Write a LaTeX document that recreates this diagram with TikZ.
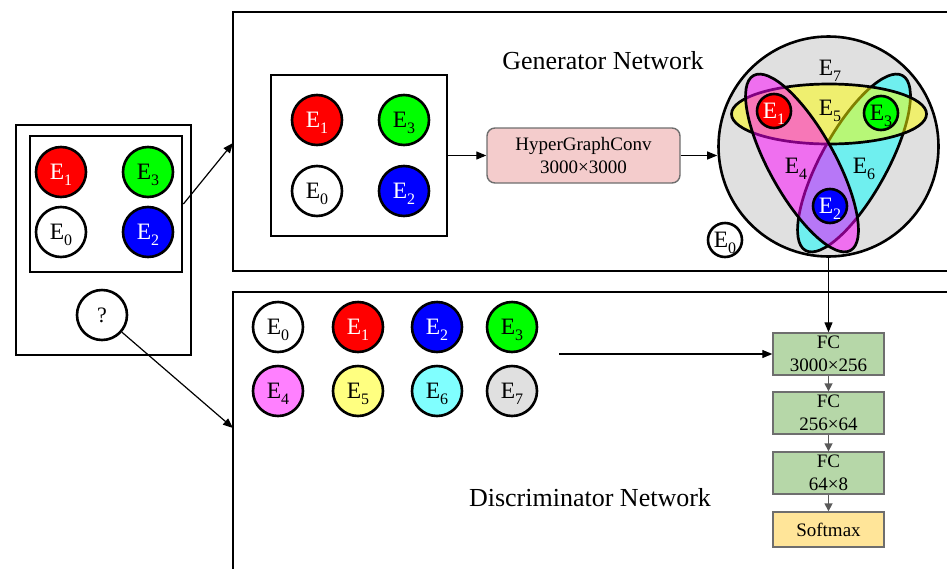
\documentclass[tikz,border=0pt]{standalone}
\usepackage{fontspec}
\setmainfont{Liberation Serif}
\usepackage{graphicx}
\usetikzlibrary{arrows.meta}
\newcommand{\Ex}[1]{E\raisebox{-0.25em}[0pt][0pt]{\scalebox{0.68}{#1}}}
\definecolor{cR}{RGB}{255,0,0}
\definecolor{cG}{RGB}{0,255,0}
\definecolor{cB}{RGB}{0,0,255}
\definecolor{cM}{RGB}{255,128,255}
\definecolor{cY}{RGB}{255,255,128}
\definecolor{cC}{RGB}{128,255,255}
\definecolor{cK}{RGB}{224,224,224}
\definecolor{hgcol}{RGB}{244,204,204}
\definecolor{fcg}{RGB}{182,215,168}
\definecolor{smx}{RGB}{255,229,153}
\definecolor{bord}{RGB}{110,110,110}
\definecolor{garrow}{RGB}{90,90,90}
\definecolor{pM}{RGB}{255,0,255}
\definecolor{pY}{RGB}{255,255,0}
\definecolor{pC}{RGB}{0,255,255}
\begin{document}
\begin{tikzpicture}[x=1pt,y=-1pt,
 frame/.style={draw, line width=2.8pt, inner sep=0pt},
 ent/.style={circle, draw, line width=2.6pt, minimum size=50pt, inner sep=0pt, font=\fontsize{23.5}{23.5}\selectfont},
 sent/.style={ent, minimum size=34pt},
 lab/.style={inner sep=0pt, font=\fontsize{23.5}{23.5}\selectfont},
 arr/.style={-{Triangle[length=10pt,width=8pt]}, line width=1.2pt},
 garr/.style={-{Triangle[length=8pt,width=8pt]}, line width=1.6pt, draw=garrow},
 fcbox/.style={draw=bord, line width=1.4pt, fill=fcg, minimum width=111pt, minimum height=42pt, inner sep=0pt, align=center, font=\fontsize{19}{23}\selectfont},
 title/.style={font=\fontsize{26}{30}\selectfont, inner sep=0pt},
 hedge/.style={draw, line width=2.7pt, fill opacity=0.5}
]
\useasboundingbox (0,0) rectangle (947,568);

% ---------- left input box ----------
\node[frame, minimum width=175pt, minimum height=230pt] (outer) at (103.5,240) {};
\node[frame, minimum width=152pt, minimum height=136pt] (inbox) at (106,204) {};
\node[ent, fill=cR, text=white] (l1) at (61,172) {\Ex{1}};
\node[ent, fill=cG] (l3) at (148,172) {\Ex{3}};
\node[ent, fill=white] (l0) at (61,232) {\Ex{0}};
\node[ent, fill=cB, text=white] (l2) at (148,232) {\Ex{2}};
\node[ent, fill=white, font=\fontsize{22}{22}\selectfont] (q) at (102,315) {?};

% ---------- generator ----------
\node[frame, minimum width=728pt, minimum height=259pt] (gen) at (597,141.5) {};
\node[title] (gtitle) at (603,61) {Generator Network};
\node[frame, minimum width=176pt, minimum height=161pt] (ginbox) at (359,155.5) {};
\node[ent, fill=cR, text=white] (g1) at (317,120) {\Ex{1}};
\node[ent, fill=cG] (g3) at (404,120) {\Ex{3}};
\node[ent, fill=white] (g0) at (317,191) {\Ex{0}};
\node[ent, fill=cB, text=white] (g2) at (404,191) {\Ex{2}};
\node[draw=bord, line width=1.4pt, fill=hgcol, rounded corners=8pt, minimum width=193pt, minimum height=55pt, inner sep=0pt, align=center, font=\fontsize{19}{23}\selectfont] (hgc) at (583.5,155.5) {HyperGraphConv\\3000×3000};

% hypergraph
\node[circle, draw, line width=2.6pt, fill=cK, minimum size=220pt, inner sep=0pt] (hg) at (828.5,146.5) {};
\begin{scope}[shift={(854,163)}, rotate=61]
  \path[hedge, fill=pC] (0,0) ellipse [x radius=100pt, y radius=33pt];
\end{scope}
\path[hedge, fill=pY] (829,114) ellipse [x radius=97.5pt, y radius=30pt];
\begin{scope}[shift={(802,163)}, rotate=-61]
  \path[hedge, fill=pM] (0,0) ellipse [x radius=100pt, y radius=33pt];
\end{scope}
\node[sent, fill=cR, text=white] (h1) at (774,111) {\Ex{1}};
\node[sent, fill=cG] (h3) at (881,113) {\Ex{3}};
\node[sent, fill=cB, text=white] (h2) at (830,206) {\Ex{2}};
\node[sent, fill=white] (h0) at (725,240) {\Ex{0}};
\node[lab] (t7) at (830,67.5) {\Ex{7}};
\node[lab] (t5) at (830,107.5) {\Ex{5}};
\node[lab] (t4) at (796,165.5) {\Ex{4}};
\node[lab] (t6) at (864,165.5) {\Ex{6}};

% ---------- discriminator ----------
\node[frame, minimum width=728pt, minimum height=308pt] (dis) at (597,446) {};
\node[title] (dtitle) at (590,498) {Discriminator Network};
\node[ent, fill=white] (d0) at (278,327) {\Ex{0}};
\node[ent, fill=cR, text=white] (d1) at (358,327) {\Ex{1}};
\node[ent, fill=cB, text=white] (d2) at (437,327) {\Ex{2}};
\node[ent, fill=cG] (d3) at (512,327) {\Ex{3}};
\node[ent, fill=cM] (d4) at (278,391) {\Ex{4}};
\node[ent, fill=cY] (d5) at (358,391) {\Ex{5}};
\node[ent, fill=cC] (d6) at (437,391) {\Ex{6}};
\node[ent, fill=cK] (d7) at (512,391) {\Ex{7}};

\node[fcbox] (fc1) at (828.5,354) {FC\\3000×256};
\node[fcbox] (fc2) at (828.5,413) {FC\\256×64};
\node[fcbox] (fc3) at (828.5,473) {FC\\64×8};
\node[fcbox, fill=smx, minimum height=35pt] (soft) at (828.5,529.5) {Softmax};

% ---------- connectors ----------
\coordinate (genin) at (233,143);
\coordinate (disin) at (233,428);
\coordinate (dstart) at (559,354);
\draw[arr] (inbox.east) -- (genin);
\draw[arr] (q) -- (disin);
\draw[arr] (ginbox.east) -- (hgc.west);
\draw[arr] (hgc.east) -- (hgc.east -| hg.west);
\draw[arr] (hg.south) -- (fc1.north);
\draw[arr] (dstart) -- (fc1.west);
\draw[garr] (fc1.south) -- (fc2.north);
\draw[garr] (fc2.south) -- (fc3.north);
\draw[garr] (fc3.south) -- (soft.north);
\end{tikzpicture}
\end{document}
